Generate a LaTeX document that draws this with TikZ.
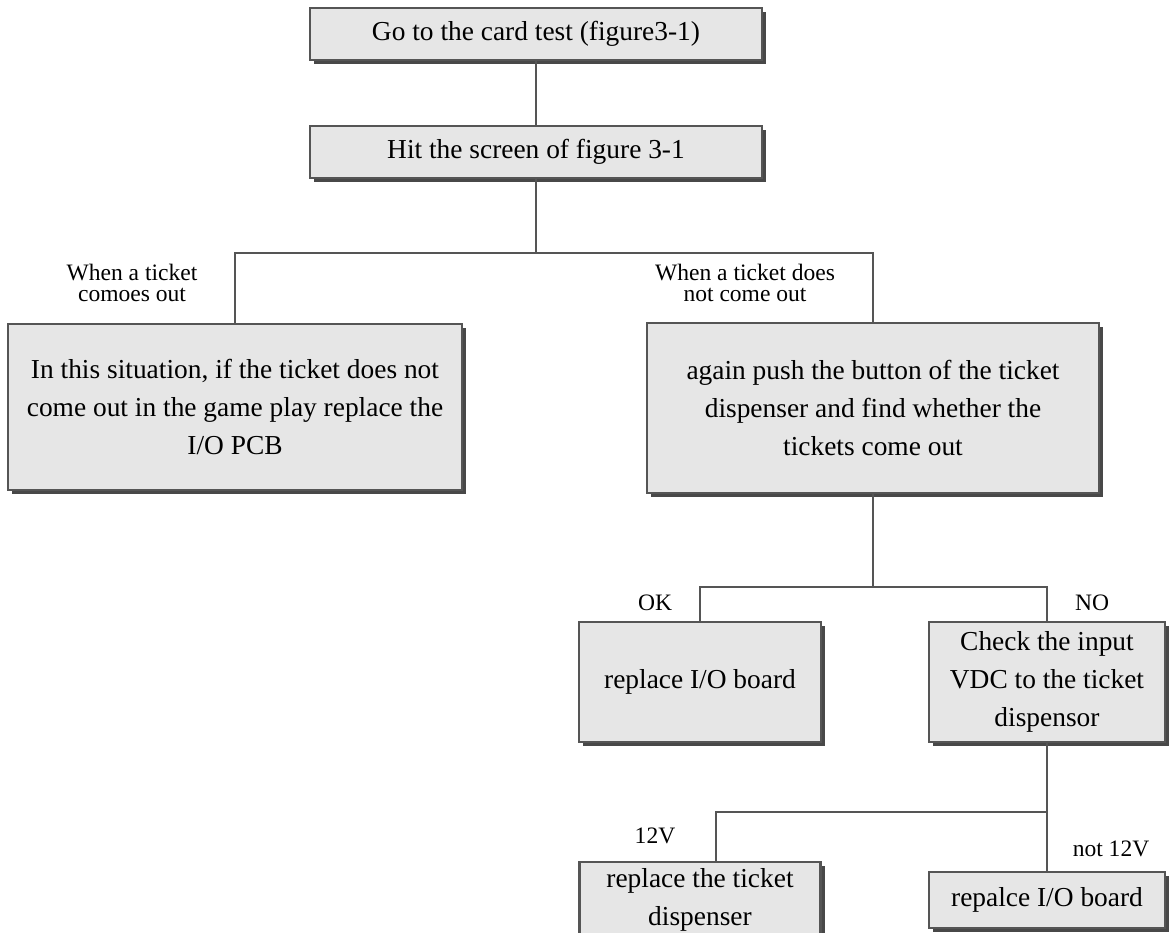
\documentclass[tikz,border=0pt]{standalone}
\usepackage{fontspec}
\setmainfont{Liberation Serif}
\usetikzlibrary{shadows}
\definecolor{rim}{RGB}{85,85,85}
\definecolor{panel}{RGB}{230,230,230}
\definecolor{umbra}{RGB}{72,72,72}
\tikzset{
  card/.style={draw=rim,fill=panel,line width=1.3pt,inner sep=0pt,align=center,
    font=\fontsize{15.6}{21.5}\selectfont,
    drop shadow={shadow xshift=2.3pt,shadow yshift=-2.3pt,fill=umbra,opacity=1}},
  tag/.style={inner sep=0pt,align=center,font=\fontsize{13.4}{12.2}\selectfont},
  link/.style={draw=rim,line width=1.5pt},
}
\begin{document}
\begin{tikzpicture}[x=0.02cm,y=-0.02cm]
  \useasboundingbox (0,0) rectangle (1170,933);
  % top of the chart
  \node[card,minimum width=9.04cm,minimum height=1.04cm] (go) at (536,34) {Go to the card test (figure3-1)};
  \node[card,minimum width=9.04cm,minimum height=1.04cm] (hit) at (536,152) {Hit the screen of figure 3-1};
  \node[card,minimum width=9.08cm,minimum height=3.32cm] (yes) at (235,407)
    {In this situation, if the ticket does not\\come out in the game play replace the\\I/O PCB};
  \node[card,minimum width=9.04cm,minimum height=3.4cm] (no) at (873,408)
    {again push the button of the ticket\\dispenser and find whether the\\tickets come out};
  % second test
  \node[card,minimum width=4.84cm,minimum height=2.4cm] (ok) at (700,682) {replace I/O board};
  \node[card,minimum width=4.72cm,minimum height=2.4cm] (chk) at (1047,682)
    {Check the input\\VDC to the ticket\\dispensor};
  \node[card,minimum width=4.82cm,minimum height=1.52cm] (tkt) at (700,900) {replace the ticket\\dispenser};
  \node[card,minimum width=4.72cm,minimum height=1.12cm] (rep) at (1047,900) {repalce I/O board};
  % branch labels
  \node[tag] (lyes) at (132,283) {When a ticket\\comoes out};
  \node[tag] (lno) at (745,283) {When a ticket does\\not come out};
  \node[tag] (lok) at (655,603) {OK};
  \node[tag] (lnok) at (1092,603) {NO};
  \node[tag] (ltw) at (655,836) {12V};
  \node[tag] (lntw) at (1111,849) {not 12V};
  % connectors
  \coordinate (fork1) at (536,253);
  \coordinate (fork2) at (873,587);
  \coordinate (fork3) at (1047,812);
  \draw[link] (go) -- (hit);
  \draw[link] (hit.south) -- (fork1);
  \draw[link] (yes.north) |- (fork1) -| (no.north);
  \draw[link] (no.south) -- (fork2);
  \draw[link] (ok.north) |- (fork2) -| (chk.north);
  \draw[link] (chk.south) -- (fork3) -| ([xshift=0.32cm]tkt.north);
  \draw[link] (fork3) -- (rep.north);
\end{tikzpicture}
\end{document}
